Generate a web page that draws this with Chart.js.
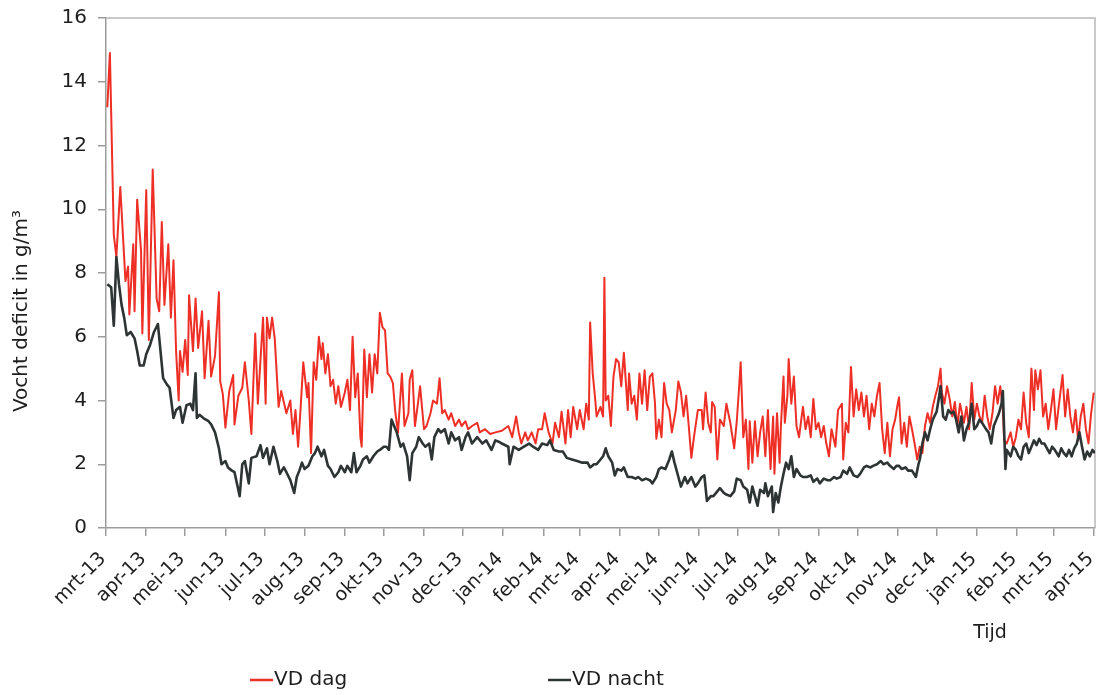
<!DOCTYPE html>
<html>
<head>
<meta charset="utf-8">
<script src="https://cdn.jsdelivr.net/npm/chart.js@4.4.1/dist/chart.umd.min.js"></script>
<style>
  html, body { margin: 0; padding: 0; background: #ffffff; }
  canvas { display: block; }
</style>
</head>
<body>
<canvas id="chart" width="1100" height="695"></canvas>
<script>
// Month tick labels, one per first day of the month
const monthLabels = ['mrt-13','apr-13','mei-13','jun-13','jul-13','aug-13','sep-13','okt-13','nov-13','dec-13',
  'jan-14','feb-14','mrt-14','apr-14','mei-14','jun-14','jul-14','aug-14','sep-14','okt-14','nov-14','dec-14',
  'jan-15','feb-15','mrt-15','apr-15'];

// VD dag: day number (days since 1 March 2013) and moisture deficit in g/m3
const dagDays = [1,3,6,8,11,15,17,18,21,22,24,27,28,31,33,36,39,41,43,45,48,50,52,54,56,57,59,61,63,64,67,69,71,74,76,79,81,84,87,88,90,92,95,98,99,102,105,107,110,112,115,117,121,123,124,126,128,130,133,135,139,142,144,146,148,150,152,155,156,158,160,162,164,166,167,169,171,173,175,177,179,181,184,186,188,190,192,194,196,197,199,201,203,205,207,209,211,213,215,217,219,221,223,225,228,230,233,234,236,238,240,242,245,247,250,252,255,257,259,261,264,266,269,272,274,277,279,282,286,288,292,296,300,305,310,313,316,318,320,323,325,328,331,333,336,338,341,344,346,349,351,354,356,358,360,363,365,368,370,372,373,375,377,378,381,383,384,385,387,389,391,393,395,397,399,402,403,405,407,409,411,413,415,417,419,421,423,424,426,428,430,432,434,436,439,441,443,445,447,449,451,453,456,459,460,462,464,466,467,469,471,473,476,478,481,484,486,488,489,491,493,495,496,498,500,502,504,506,508,510,512,514,515,517,519,520,522,523,525,526,528,530,532,534,536,537,539,541,543,545,547,549,551,553,555,557,559,562,564,567,568,570,572,574,576,578,580,582,584,586,588,590,592,594,596,598,600,602,604,606,608,610,611,613,615,617,619,621,623,625,627,629,631,633,635,637,639,641,643,644,646,648,650,652,654,656,658,661,663,665,667,669,671,673,675,677,679,681,683,685,687,689,691,692,694,697,699,701,703,705,707,709,711,713,715,716,718,720,722,724,726,728,730,732,734,737,739,741,743,745,747,749,751,753,755,757,759,761];
const dagValues = [13.2,14.9,9.2,8.5,10.7,7.75,8.2,6.7,8.9,6.8,10.3,8.7,6.1,10.6,5.9,11.25,7.2,6.8,9.6,7.0,8.9,6.6,8.4,5.55,4.0,5.55,4.9,5.9,4.8,7.3,5.55,7.2,5.65,6.8,4.7,6.5,4.75,5.4,7.4,4.6,4.2,3.15,4.3,4.8,3.25,4.15,4.4,5.2,4.0,2.95,6.1,3.9,6.6,3.9,6.6,5.95,6.6,5.95,3.8,4.3,3.6,4.0,2.95,3.7,2.55,3.8,5.2,4.1,4.55,2.35,5.2,4.65,6.0,5.3,5.8,4.85,5.45,4.45,4.65,3.9,4.45,3.8,4.25,4.65,3.7,6.0,4.1,4.85,2.85,2.55,5.6,4.1,5.45,4.25,5.45,4.85,6.75,6.3,6.2,4.85,4.75,4.55,3.6,3.0,4.85,3.2,3.6,4.65,4.95,3.2,3.8,4.45,3.1,3.2,3.6,4.0,3.9,4.7,3.6,3.7,3.4,3.6,3.2,3.4,3.2,3.35,3.1,3.2,3.3,3.0,3.1,2.95,3.0,3.05,3.2,2.85,3.5,3.0,2.65,3.0,2.75,3.0,2.65,3.1,3.1,3.6,3.0,2.65,3.3,2.85,3.65,2.65,3.7,2.85,3.8,3.1,3.7,3.1,3.9,3.4,6.45,4.85,4.0,3.5,3.8,3.5,7.85,4.0,4.15,3.2,4.75,5.3,5.2,4.45,5.5,3.7,4.85,3.9,4.15,3.4,4.85,3.9,4.95,3.7,4.75,4.85,3.9,2.8,3.4,2.85,4.55,3.9,3.7,3.0,3.7,4.6,4.25,3.5,4.15,3.2,2.2,2.85,3.7,3.7,3.1,4.25,3.3,3.0,3.95,3.8,2.15,3.4,3.2,3.9,3.3,2.5,3.35,4.55,5.2,2.85,3.4,1.85,3.35,2.05,3.35,2.25,3.0,3.5,2.25,3.7,1.85,3.5,1.7,3.6,2.05,3.2,4.75,3.3,4.15,5.3,3.9,4.75,3.2,2.85,3.5,3.8,3.1,3.5,2.85,4.05,3.1,3.3,2.85,3.2,2.65,2.25,3.1,2.55,3.7,3.9,2.15,3.3,3.0,5.05,3.5,4.35,3.7,4.25,3.5,4.15,3.1,3.9,3.5,4.15,4.55,3.1,2.35,3.3,2.25,3.1,3.4,3.9,4.1,2.65,3.3,2.55,3.5,3.1,2.65,2.15,2.55,2.35,3.2,3.6,3.3,3.8,4.15,4.45,5.0,4.25,3.9,4.45,4.05,3.5,3.95,3.2,3.9,3.3,3.8,3.1,4.55,3.4,3.9,3.5,3.3,4.15,3.5,3.1,3.6,4.45,3.9,4.45,3.7,2.75,2.65,3.0,2.55,2.85,3.4,3.1,4.25,3.3,2.85,5.0,3.7,4.95,4.35,4.95,3.5,3.9,3.1,3.7,4.35,3.1,3.8,4.8,3.5,4.35,3.5,3.0,3.7,2.75,3.5,3.9,3.1,2.65,3.6,4.25];

// VD nacht: day number (days since 1 March 2013) and moisture deficit in g/m3
const nachtDays = [1,4,6,8,10,12,14,16,19,22,24,26,29,31,34,37,40,42,44,47,49,52,54,57,59,62,65,67,69,70,72,75,79,81,84,87,89,92,94,97,99,103,105,107,110,112,116,119,121,124,126,129,132,134,137,139,142,145,147,149,151,153,156,159,161,163,166,168,171,173,176,179,181,184,186,189,191,193,196,198,201,203,206,209,211,214,216,218,220,222,224,227,229,232,234,236,239,241,244,246,249,251,253,256,258,261,264,266,269,272,274,277,279,282,286,290,293,297,300,303,305,310,311,314,318,322,326,329,333,336,340,342,345,349,352,355,359,363,367,371,373,376,378,381,383,385,387,390,392,394,397,399,402,405,408,410,413,416,419,421,424,426,428,431,434,436,438,441,443,446,448,451,454,456,459,461,463,466,468,471,473,476,478,481,484,486,489,491,494,496,498,500,502,504,507,508,510,513,514,516,518,520,522,524,526,528,530,532,535,537,540,543,545,548,550,553,556,558,561,563,566,568,571,573,576,579,581,584,586,589,591,594,597,599,602,604,607,609,611,613,616,618,621,624,626,627,629,631,633,635,637,640,642,643,645,647,649,651,653,655,657,659,661,663,665,667,669,671,673,675,678,680,682,684,686,688,690,691,693,694,697,699,701,703,705,707,709,711,713,715,717,719,721,723,725,727,729,731,734,736,738,740,742,744,746,748,750,752,754,756,758,760,762];
const nachtValues = [7.65,7.55,6.35,8.5,7.65,7.0,6.6,6.05,6.15,5.95,5.55,5.1,5.1,5.45,5.75,6.15,6.4,5.55,4.7,4.5,4.4,3.45,3.7,3.8,3.3,3.85,3.9,3.7,4.85,3.45,3.55,3.45,3.35,3.25,3.0,2.5,2.0,2.1,1.9,1.8,1.75,1.0,2.0,2.1,1.4,2.2,2.25,2.6,2.2,2.5,2.0,2.55,2.1,1.7,1.9,1.75,1.5,1.1,1.6,1.8,2.05,1.85,1.95,2.25,2.35,2.55,2.25,2.45,1.95,1.85,1.6,1.75,1.95,1.75,1.95,1.75,2.35,1.75,1.95,2.15,2.25,2.05,2.25,2.4,2.45,2.55,2.55,2.45,3.4,3.2,3.0,2.55,2.65,2.25,1.5,2.35,2.55,2.85,2.65,2.55,2.65,2.15,2.85,3.1,3.0,3.1,2.65,3.0,2.75,2.85,2.45,2.85,3.0,2.65,2.85,2.65,2.75,2.45,2.75,2.7,2.65,2.55,2.0,2.55,2.45,2.55,2.65,2.55,2.45,2.65,2.6,2.75,2.45,2.4,2.4,2.2,2.15,2.1,2.05,2.05,1.9,2.0,2.0,2.15,2.25,2.5,2.25,2.05,1.65,1.85,1.8,1.9,1.6,1.6,1.55,1.6,1.5,1.55,1.5,1.4,1.6,1.85,1.9,1.85,2.15,2.4,2.05,1.6,1.3,1.6,1.4,1.6,1.3,1.4,1.6,1.65,0.85,1.0,1.0,1.15,1.25,1.1,1.05,1.0,1.15,1.55,1.5,1.3,1.2,0.8,1.3,1.0,0.7,1.2,1.1,1.4,1.0,1.3,0.5,1.1,0.8,1.3,1.7,2.05,1.85,2.25,1.6,1.85,1.65,1.6,1.6,1.65,1.45,1.55,1.4,1.55,1.5,1.5,1.6,1.55,1.6,1.8,1.7,1.9,1.65,1.6,1.7,1.9,1.95,1.9,1.95,2.0,2.1,2.0,2.05,1.95,1.85,1.95,1.95,1.85,1.9,1.8,1.8,1.6,2.0,2.15,2.65,3.0,2.75,3.1,3.4,3.65,4.15,4.45,3.5,3.4,3.7,3.6,3.65,3.4,3.0,3.5,2.75,3.1,3.3,3.9,3.1,3.2,3.4,3.3,3.1,3.0,2.65,3.2,3.4,3.6,3.9,4.3,1.85,2.45,2.25,2.55,2.45,2.25,2.15,2.55,2.65,2.35,2.55,2.75,2.6,2.8,2.65,2.65,2.5,2.35,2.55,2.45,2.25,2.5,2.35,2.25,2.45,2.25,2.5,2.65,3.0,2.55,2.15,2.4,2.25,2.45,2.35];

const seriesName = ['VD dag', 'VD nacht'];
const yAxisTitle = 'Vocht deficit in g/m³';
const xAxisTitle = 'Tijd';

const DAY_MS = 86400000;
const startUtc = Date.UTC(2013, 2, 1);
const monthDays = monthLabels.map((_, i) => Math.round((Date.UTC(2013, 2 + i, 1) - startUtc) / DAY_MS));

const RED = '#ee2f25';
const DARK = '#2e3333';
const TEXT = '#1e1e1e';
const AXIS = '#9c9c9c';
const FONT = '"DejaVu Sans", Verdana, sans-serif';

function toPoints(days, values) {
  return days.map((d, i) => ({ x: d, y: values[i] }));
}

function drawText(ctx, str, x, y, o) {
  ctx.save();
  ctx.translate(x, y);
  if (o.sx) ctx.scale(o.sx, 1);
  if (o.angle) ctx.rotate(o.angle);
  ctx.font = o.font;
  ctx.fillStyle = o.color || TEXT;
  ctx.textAlign = o.align || 'left';
  ctx.textBaseline = o.baseline || 'middle';
  ctx.fillText(str, 0, 0);
  ctx.restore();
}

// Frame on top and right of the plot area
const framePlugin = {
  id: 'frame',
  beforeDatasetsDraw(chart) {
    const { ctx, chartArea: a } = chart;
    ctx.save();
    ctx.strokeStyle = '#b8b8b8';
    ctx.lineWidth = 1.5;
    ctx.beginPath();
    ctx.moveTo(a.left, a.top);
    ctx.lineTo(a.right, a.top);
    ctx.lineTo(a.right, a.bottom);
    ctx.stroke();
    ctx.restore();
  }
};

// Tick labels, axis titles and legend
const textPlugin = {
  id: 'texts',
  afterDraw(chart) {
    const { ctx, scales } = chart;
    const xs = scales.x, ys = scales.y;

    ys.ticks.forEach(t => {
      drawText(ctx, String(t.value), ys.right - 19, ys.getPixelForValue(t.value),
        { font: '20px ' + FONT, align: 'right', baseline: 'middle' });
    });

    monthLabels.forEach((lab, i) => {
      const px = xs.getPixelForValue(monthDays[i]);
      drawText(ctx, lab, px - 3, xs.top + 28,
        { font: '19px ' + FONT, align: 'right', baseline: 'middle', angle: -Math.PI / 4 });
    });

    drawText(ctx, yAxisTitle, 22, (ys.top + ys.bottom) / 2 + 38,
      { font: '20px ' + FONT, align: 'center', baseline: 'middle', angle: -Math.PI / 2 });

    drawText(ctx, xAxisTitle, 990, 633, { font: '19px ' + FONT, align: 'center', baseline: 'middle' });

    const legendY = 680;
    const items = [
      { x: 250, color: RED, width: 2.5, text: seriesName[0] },
      { x: 548, color: DARK, width: 2.5, text: seriesName[1] }
    ];
    items.forEach(it => {
      ctx.save();
      ctx.strokeStyle = it.color;
      ctx.lineWidth = it.width;
      ctx.beginPath();
      ctx.moveTo(it.x, legendY);
      ctx.lineTo(it.x + 23, legendY);
      ctx.stroke();
      ctx.restore();
      drawText(ctx, it.text, it.x + 24, legendY, { font: '20px ' + FONT, align: 'left', baseline: 'middle' });
    });
  }
};

new Chart(document.getElementById('chart').getContext('2d'), {
  type: 'line',
  data: {
    datasets: [
      { label: seriesName[0], data: toPoints(dagDays, dagValues), borderColor: RED, borderWidth: 2,
        borderJoinStyle: 'round', pointRadius: 0, tension: 0, order: 1 },
      { label: seriesName[1], data: toPoints(nachtDays, nachtValues), borderColor: DARK, borderWidth: 2.6,
        borderJoinStyle: 'round', pointRadius: 0, tension: 0, order: 0 }
    ]
  },
  options: {
    responsive: false,
    animation: false,
    devicePixelRatio: 1,
    parsing: false,
    layout: { padding: { top: 18, right: 5, left: 0, bottom: 0 } },
    plugins: { legend: { display: false }, tooltip: { enabled: false } },
    scales: {
      x: {
        type: 'linear',
        min: 0,
        max: 762,
        afterBuildTicks: s => { s.ticks = monthDays.map(v => ({ value: v })); },
        afterFit: s => { s.height = 167; },
        ticks: { display: false },
        grid: { drawOnChartArea: false, drawTicks: true, tickLength: 8, color: AXIS, lineWidth: 1.5 },
        border: { display: true, color: AXIS, width: 1.5 }
      },
      y: {
        min: 0,
        max: 16,
        ticks: { display: false, stepSize: 2 },
        afterFit: s => { s.width = 106; },
        grid: { drawOnChartArea: false, drawTicks: true, tickLength: 8, color: AXIS, lineWidth: 1.5 },
        border: { display: true, color: AXIS, width: 1.5 }
      }
    }
  },
  plugins: [framePlugin, textPlugin]
});
</script>
</body>
</html>
